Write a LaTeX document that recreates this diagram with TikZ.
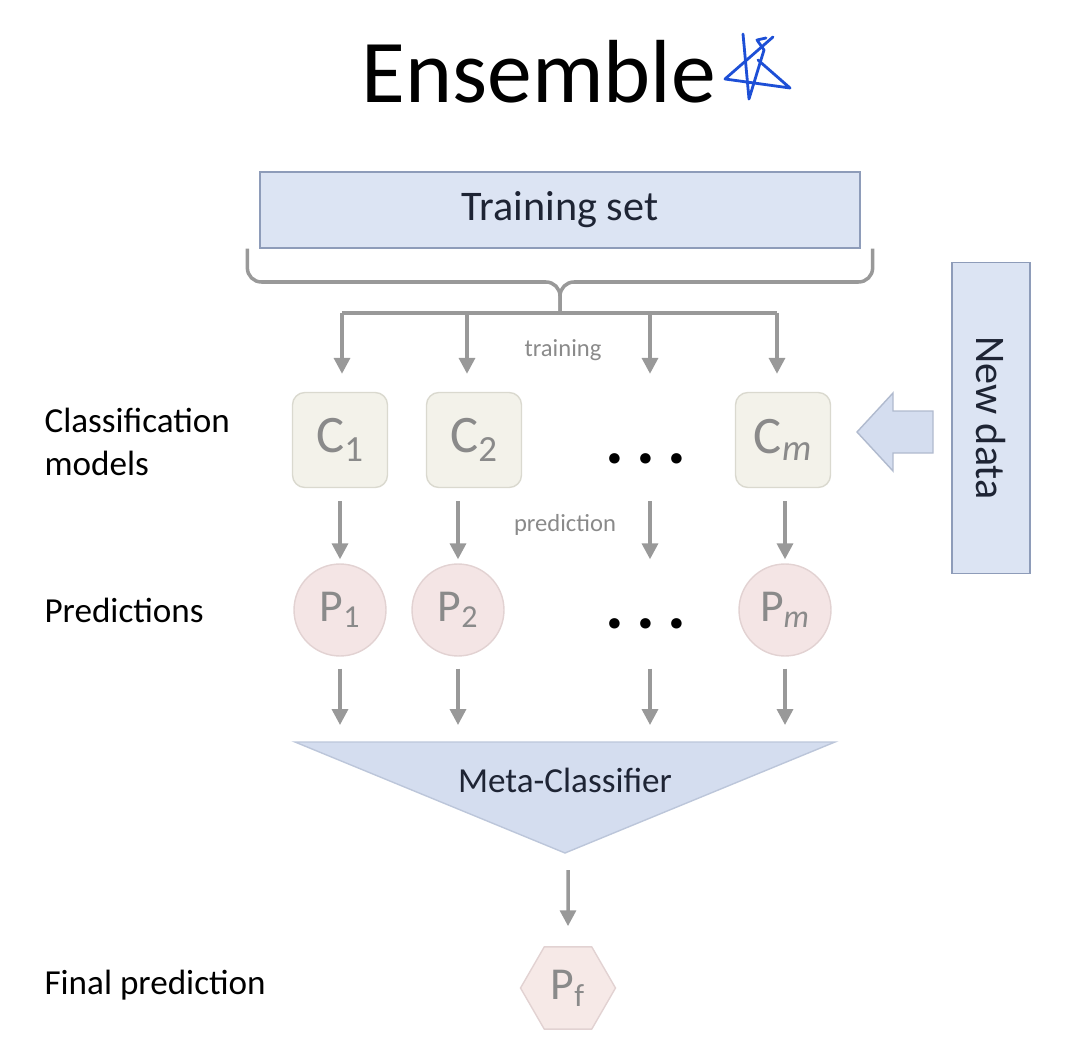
\documentclass[tikz,border=0pt]{standalone}
\usepackage{fontspec}
\setmainfont{Carlito}
\usetikzlibrary{arrows.meta,shapes.geometric,positioning}

\definecolor{boxfill}{HTML}{DCE4F3}
\definecolor{boxline}{HTML}{8E9CB9}
\definecolor{metafill}{HTML}{D4DDEF}
\definecolor{metaline}{HTML}{BCC6DA}
\definecolor{modelfill}{HTML}{F3F2EA}
\definecolor{modelline}{HTML}{DAD9CF}
\definecolor{predfill}{HTML}{F4E5E5}
\definecolor{predline}{HTML}{E2D2D2}
\definecolor{finalfill}{HTML}{F6E9E7}
\definecolor{arrowgray}{HTML}{999999}
\definecolor{lettergray}{HTML}{8A8A8A}
\definecolor{inkblue}{HTML}{1D4FD6}
\definecolor{navytext}{HTML}{1E2434}

\begin{document}
\begin{tikzpicture}[x=0.02cm, y=-0.02cm, thick,
    flow/.style={draw=arrowgray, line width=2pt, -{Triangle[width=9pt,length=9pt]}},
    bracket/.style={draw=arrowgray, line width=2pt, rounded corners=8pt},
    model/.style={draw=modelline, fill=modelfill, rounded corners=7pt, minimum width=1.9cm, minimum height=1.9cm, text=lettergray, font=\fontsize{30}{32}\selectfont},
    pred/.style={circle, draw=predline, fill=predfill, minimum size=1.84cm, inner sep=0pt, text=lettergray, font=\fontsize{26}{28}\selectfont},
    rowlabel/.style={anchor=west, align=left, font=\fontsize{20}{24}\selectfont},
    note/.style={text=lettergray, font=\fontsize{14}{16}\selectfont},
    dotrow/.style={font=\fontsize{40}{40}\selectfont\bfseries},
    datatext/.style={text=navytext, font=\fontsize{24}{28}\selectfont}]

    \useasboundingbox (0,0) rectangle (1085,1047);

    % title and the ink star
    \node[anchor=base] (title) at (539,103) {\fontsize{51}{56}\selectfont Ensemble};
    \draw[inkblue, line width=1.6pt, line join=round, line cap=round] (743,34) -- (749,99) -- (764,50) -- (757,40) -- (766,38);
    \draw[inkblue, line width=1.6pt, line join=round, line cap=round] (773,37) -- (725,79) -- (790,88) -- (758,60);

    \node[draw=boxline, fill=boxfill, minimum width=12cm, minimum height=1.52cm, datatext] at (560,210) (train) {Training set};
    \node[draw=boxline, fill=boxfill, rotate=-90, minimum width=6.22cm, minimum height=1.56cm, datatext] at (991,418) (newdata) {New data};
    \draw[draw=boxline!70, fill=metafill, line width=0.8pt] (933,411) -- (893,411) -- (893,393) -- (857,432) -- (893,471) -- (893,453) -- (933,453) -- cycle;

    % row labels
    \node[rowlabel] at (38,442) (lblmodels) {Classification\\models};
    \node[rowlabel] at (38,610) (lblpreds) {Predictions};
    \node[rowlabel] at (38,985) (lblfinal) {Final prediction};

    % models and predictions
    \node[model] at (340,440) (c1) {C\textsubscript{1}};
    \node[model] at (474,440) (c2) {C\textsubscript{2}};
    \node[model] at (783,440) (cm) {C\textsubscript{\itshape m}};
    \node[dotrow] at (646,459) (cdots) {.\hspace{6.8pt}.\hspace{6.8pt}.};

    \node[pred] at (340,610) (p1) {P\textsubscript{1}};
    \node[pred] at (458,610) (p2) {P\textsubscript{2}};
    \node[pred] at (785,610) (pm) {P\textsubscript{\itshape m}};
    \node[dotrow] at (646,624) (pdots) {.\hspace{6.8pt}.\hspace{6.8pt}.};

    % meta classifier
    \coordinate (metaleft) at (295,742);
    \coordinate (metaright) at (835,742);
    \coordinate (metatip) at (565,853);
    \fill[metafill] (metaleft) -- (metaright) -- (metatip) -- cycle;
    \draw[metaline, line width=0.8pt] (metaleft) -- (metaright) -- (metatip) -- cycle;
    \node[text=navytext, font=\fontsize{20}{24}\selectfont] at (565,780) (meta) {Meta-Classifier};

    \node[regular polygon, regular polygon sides=6, minimum size=1.9cm, inner sep=0pt, draw=predline, fill=finalfill, text=lettergray, font=\fontsize{26}{28}\selectfont] at (568,988) (pf) {P\textsubscript{f}};

    % training fork
    \coordinate (fork) at (560,313);
    \coordinate (col1) at (342,313);
    \coordinate (col2) at (467,313);
    \coordinate (col3) at (650,313);
    \coordinate (col4) at (777,313);
    \draw[bracket] ([xshift=-0.24cm]train.south west) |- (fork |- 0,282) -- (fork);
    \draw[bracket] ([xshift=0.24cm]train.south east) |- (fork |- 0,282) -- (fork);
    \draw[draw=arrowgray, line width=2pt] (col1) -- (col4);
    \foreach \col in {col1,col2,col3,col4}
        \draw[flow, shorten >=0.36cm] (\col) -- (\col |- c1.north);
    \node[note] at (563,350) (lbltrain) {training};

    % prediction arrows
    \draw[flow, shorten <=0.26cm, shorten >=0.08cm] (c1.south) -- (c1.south |- p1.north);
    \draw[flow, shorten <=0.26cm, shorten >=0.08cm] (p2 |- c2.south) -- (p2.north);
    \draw[flow, shorten <=0.26cm, shorten >=0.08cm] (col3 |- c1.south) -- (col3 |- p1.north);
    \draw[flow, shorten <=0.26cm, shorten >=0.08cm] (pm |- cm.south) -- (pm.north);
    \node[note] at (565,525) (lblpred) {prediction};

    % into the meta classifier
    \draw[flow, shorten <=0.24cm, shorten >=0.34cm] (p1.south) -- (p1 |- metaleft);
    \draw[flow, shorten <=0.24cm, shorten >=0.34cm] (p2.south) -- (p2 |- metaleft);
    \draw[flow, shorten <=0.24cm, shorten >=0.34cm] (col3 |- p1.south) -- (col3 |- metaleft);
    \draw[flow, shorten <=0.24cm, shorten >=0.34cm] (pm.south) -- (pm |- metaleft);

    \draw[flow, shorten <=0.34cm, shorten >=0.4cm] (pf |- metatip) -- (pf.north);

\end{tikzpicture}
\end{document}
